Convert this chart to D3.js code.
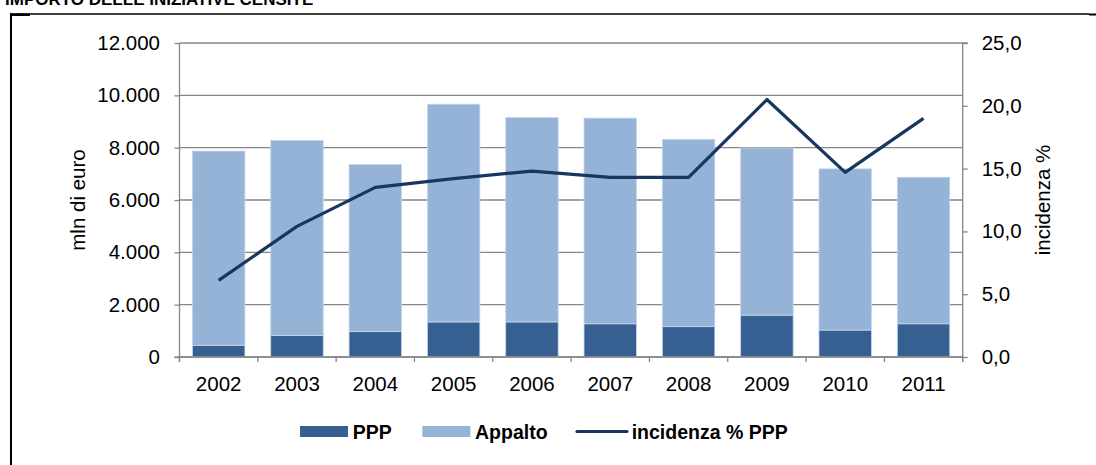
<!DOCTYPE html>
<html>
<head>
<meta charset="utf-8">
<script src="https://cdn.jsdelivr.net/npm/d3@7"></script>
<style>
html,body{margin:0;padding:0;background:#fff;}
svg{display:block;font-family:"Liberation Sans",Arial,sans-serif;}
</style>
</head>
<body>
<svg id="chart" width="1096" height="465"></svg>
<script>
const years = ["2002","2003","2004","2005","2006","2007","2008","2009","2010","2011"];
const ppp = [450, 820, 970, 1340, 1340, 1270, 1160, 1600, 1030, 1270];
const appalto = [7420, 7460, 6390, 8320, 7810, 7860, 7160, 6390, 6160, 5600];
const incidenza = [6.1, 10.4, 13.5, 14.2, 14.8, 14.3, 14.3, 20.5, 14.7, 19.0];
const leftTicks = [0, 2000, 4000, 6000, 8000, 10000, 12000];
const rightTicks = [0, 5, 10, 15, 20, 25];
const title = "IMPORTO DELLE INIZIATIVE CENSITE";
const leftLabel = "mln di euro";
const rightLabel = "incidenza %";
const legendLabels = ["PPP", "Appalto", "incidenza % PPP"];

const C_PPP = "#376092", C_APP = "#95b3d7", C_LINE = "#17375e", C_AX = "#868686";
const loc = d3.formatLocale({decimal: ",", thousands: ".", grouping: [3], currency: ["", "€"]});
const fLeft = loc.format(",.0f"), fRight = loc.format(",.1f");

const svg = d3.select("#chart");
const L = 179.5, R = 962.7, T = 43, B = 357;

const x = d3.scaleBand().domain(years).range([L, R]).paddingInner(0.33).paddingOuter(0.165);
const y = d3.scaleLinear().domain([0, 12000]).range([B, T]);
const y2 = d3.scaleLinear().domain([0, 25]).range([B, T]);

// title & frame
svg.append("text").attr("x", 5).attr("y", 5).attr("font-weight", "bold").attr("font-size", 17).attr("fill", "#000").text(title);
svg.append("line").attr("x1", 10).attr("x2", 1089).attr("y1", 14).attr("y2", 14).attr("stroke", "#000").attr("stroke-width", 1.3);
svg.append("rect").attr("x", 1089).attr("y", 13.5).attr("width", 7).attr("height", 2).attr("fill", "#000");
svg.append("rect").attr("x", 10).attr("y", 13.5).attr("width", 20).attr("height", 2.5).attr("fill", "#000");
svg.append("line").attr("x1", 11).attr("x2", 11).attr("y1", 13.5).attr("y2", 465).attr("stroke", "#000").attr("stroke-width", 2);

// gridlines
svg.append("g").selectAll("line").data(leftTicks).join("line")
  .attr("x1", L).attr("x2", d => d === 12000 ? R + 5 : R)
  .attr("y1", d => y(d)).attr("y2", d => y(d))
  .attr("stroke", C_AX).attr("stroke-width", 1.3);

// stacked bars
const stackData = years.map((yr, i) => ({year: yr, ppp: ppp[i], appalto: appalto[i]}));
const series = d3.stack().keys(["ppp", "appalto"])(stackData);
const colors = {ppp: C_PPP, appalto: C_APP};
svg.append("g").selectAll("g").data(series).join("g")
  .attr("fill", d => colors[d.key])
  .selectAll("rect").data(d => d).join("rect")
  .attr("x", d => x(d.data.year)).attr("width", x.bandwidth())
  .attr("y", d => y(d[1])).attr("height", d => y(d[0]) - y(d[1]))
  .attr("stroke", "#c6d6ea").attr("stroke-width", 0.8);

// axes
const axL = svg.append("g").attr("transform", `translate(${L},0)`)
  .call(d3.axisLeft(y).tickValues(leftTicks).tickFormat(fLeft).tickSize(5).tickPadding(14.5));
const axR = svg.append("g").attr("transform", `translate(${R},0)`)
  .call(d3.axisRight(y2).tickValues(rightTicks).tickFormat(fRight).tickSize(5).tickPadding(14));
const axB = svg.append("g").attr("transform", `translate(0,${B})`)
  .call(d3.axisBottom(x).tickSize(0).tickPadding(19));
[axL, axR, axB].forEach(a => {
  a.selectAll("path.domain").remove();
  a.selectAll("line").attr("stroke", C_AX).attr("stroke-width", 1.3);
  a.selectAll("text").attr("font-size", 20.5).attr("fill", "#000").attr("font-family", "'Liberation Sans',Arial,sans-serif");
});
axB.selectAll("text").attr("dy", "0.71em");
// axis lines
svg.append("line").attr("x1", L).attr("x2", L).attr("y1", T).attr("y2", B + 5).attr("stroke", C_AX).attr("stroke-width", 1.3);
svg.append("line").attr("x1", R).attr("x2", R).attr("y1", T).attr("y2", B + 5).attr("stroke", C_AX).attr("stroke-width", 1.3);
svg.append("line").attr("x1", L - 5).attr("x2", R).attr("y1", B).attr("y2", B).attr("stroke", C_AX).attr("stroke-width", 1.3);
// category boundary ticks
svg.append("g").selectAll("line").data(d3.range(years.length + 1)).join("line")
  .attr("x1", i => L + i * x.step()).attr("x2", i => L + i * x.step())
  .attr("y1", B).attr("y2", B + 5).attr("stroke", C_AX).attr("stroke-width", 1.3);

// line
const line = d3.line().x((d, i) => x(years[i]) + x.bandwidth() / 2).y(d => y2(d));
svg.append("path").datum(incidenza).attr("d", line)
  .attr("fill", "none").attr("stroke", C_LINE).attr("stroke-width", 3.2).attr("stroke-linejoin", "round");

// axis titles
svg.append("text").attr("transform", "translate(85,200) rotate(-90)").attr("text-anchor", "middle")
  .attr("font-size", 20.5).text(leftLabel);
svg.append("text").attr("transform", "translate(1050,200) rotate(-90)").attr("text-anchor", "middle")
  .attr("font-size", 20.5).text(rightLabel);

// legend
const lg = svg.append("g").attr("font-weight", "bold").attr("font-size", 19.5);
lg.append("rect").attr("x", 300).attr("y", 426).attr("width", 48).attr("height", 11).attr("fill", C_PPP);
lg.append("text").attr("x", 352.7).attr("y", 439).text(legendLabels[0]);
lg.append("rect").attr("x", 422.3).attr("y", 426).attr("width", 48).attr("height", 11).attr("fill", C_APP);
lg.append("text").attr("x", 475).attr("y", 439).text(legendLabels[1]);
lg.append("line").attr("x1", 577).attr("x2", 627).attr("y1", 431.5).attr("y2", 431.5).attr("stroke", C_LINE).attr("stroke-width", 3.2).attr("stroke-linecap", "round");
lg.append("text").attr("x", 631.7).attr("y", 439).text(legendLabels[2]);
</script>
</body>
</html>
